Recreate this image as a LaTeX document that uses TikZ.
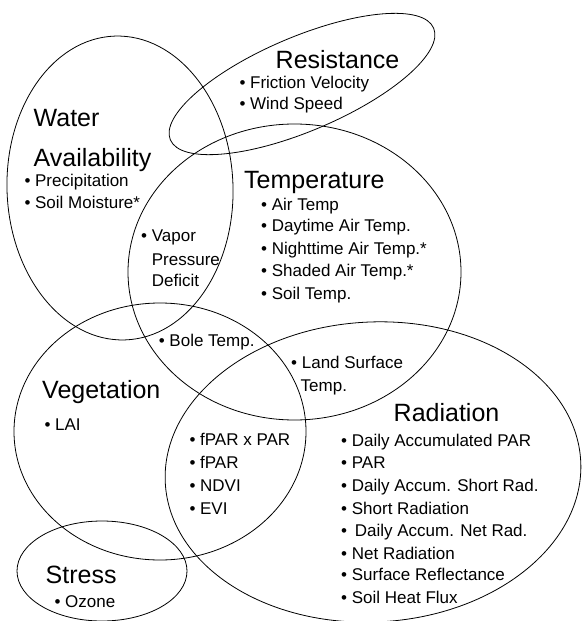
\documentclass[tikz,border=0pt]{standalone}
\usepackage{fontspec}
\setmainfont{Liberation Sans}
\usetikzlibrary{shapes.geometric}
\begin{document}
\begin{tikzpicture}[x=1pt,y=-1pt,
  set/.style={draw=black, line width=0.8pt, ellipse, inner sep=0pt, outer sep=0pt},
  ttl/.style={anchor=base west, inner sep=0pt, font=\fontsize{25}{30}\selectfont},
  itm/.style={anchor=base west, inner sep=0pt, font=\fontsize{17}{20}\selectfont}]
\useasboundingbox[fill=white] (0,0) rectangle (582,621);
% sets
\node[set, minimum width=226pt, minimum height=304pt, rotate=2] (water) at (120,188) {};
\node[set, minimum width=286pt, minimum height=94pt, rotate=23] (resist) at (302,84) {};
\node[set, minimum width=333pt, minimum height=296pt] (temp) at (294.5,272) {};
\node[set, minimum width=292pt, minimum height=257pt] (veg) at (160,431.5) {};
\node[set, minimum width=416pt, minimum height=300pt, rotate=3] (rad) at (373,472) {};
\node[set, minimum width=170pt, minimum height=100pt] (stress) at (102,571) {};
% Resistance
\node[ttl] (tres) at (275.5,68.3) {Resistance};
\node[itm] (r1) at (239.3,88.3) {\textbullet\ Friction Velocity};
\node[itm] (r2) at (239.3,109.3) {\textbullet\ Wind Speed};
% Water
\node[ttl] (tw1) at (33.5,126.7) {Water};
\node[ttl] (tw2) at (33.5,166.7) {Availability};
\node[itm] (w1) at (24.3,186.7) {\textbullet\ Precipitation};
\node[itm] (w2) at (24.3,208.3) {\textbullet\ Soil Moisture*};
% VPD
\node[itm] (v1) at (141,241.7) {\textbullet\ Vapor};
\node[itm] (v2) at (151.7,265) {Pressure};
\node[itm] (v3) at (151.7,286.7) {Deficit};
% Temperature
\node[ttl] (ttemp) at (244,188.3) {Temperature};
\node[itm] (t1) at (261,210) {\textbullet\ Air Temp};
\node[itm] (t2) at (261,231.7) {\textbullet\ Daytime Air Temp.};
\node[itm] (t3) at (261,254) {\textbullet\ Nighttime Air Temp.*};
\node[itm] (t4) at (261,276.7) {\textbullet\ Shaded Air Temp.*};
\node[itm] (t5) at (261,299) {\textbullet\ Soil Temp.};
% Bole / LST
\node[itm] (bole) at (158.6,346.7) {\textbullet\ Bole Temp.};
\node[itm] (l1) at (291,368.3) {\textbullet\ Land Surface};
\node[itm] (l2) at (300.5,391.7) {Temp.};
% Vegetation
\node[ttl] (tveg) at (42,398.3) {Vegetation};
\node[itm] (lai) at (44.3,430) {\textbullet\ LAI};
\node[itm] (f1) at (189.3,445) {\textbullet\ fPAR x PAR};
\node[itm] (f2) at (189.3,468.3) {\textbullet\ fPAR};
\node[itm] (f3) at (189.3,491.7) {\textbullet\ NDVI};
\node[itm] (f4) at (189.3,514) {\textbullet\ EVI};
% Radiation
\node[ttl] (trad) at (393.5,421.7) {Radiation};
\node[itm] (a1) at (341,446.7) {\textbullet\ Daily Accumulated PAR};
\node[itm] (a2) at (341,468) {\textbullet\ PAR};
\node[itm] (a3) at (341,491.7) {\textbullet\ Daily Accum. Short Rad.};
\node[itm] (a4) at (341,514) {\textbullet\ Short Radiation};
\node[itm] (a5) at (341,536.7) {\textbullet\ \kern3pt Daily Accum. Net Rad.};
\node[itm] (a6) at (341,559) {\textbullet\ Net Radiation};
\node[itm] (a7) at (341,580.7) {\textbullet\ Surface Reflectance};
\node[itm] (a8) at (341,603) {\textbullet\ Soil Heat Flux};
% Stress
\node[ttl] (tstr) at (45.5,583.3) {Stress};
\node[itm] (oz) at (54.3,607.3) {\textbullet\ Ozone};
\end{tikzpicture}
\end{document}
